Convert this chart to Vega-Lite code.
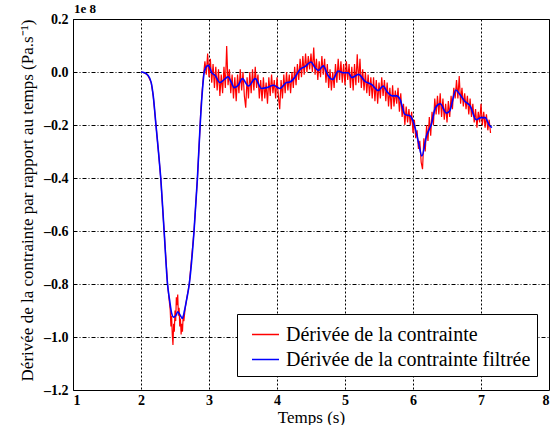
{
  "$schema": "https://vega.github.io/schema/vega-lite/v6.json",
  "width": 476,
  "height": 371,
  "autosize": {"type": "none"},
  "padding": {"left": 73, "top": 19, "right": 5, "bottom": 35},
  "background": "white",
  "title": {"text": "1e 8", "anchor": "start", "frame": "group", "font": "Liberation Serif", "fontSize": 13, "fontWeight": "bold", "color": "black", "offset": -4, "dx": 1},
  "config": {
    "view": {"stroke": "black", "strokeWidth": 1},
    "axis": {
      "domain": false, "ticks": false, "gridColor": "black", "gridOpacity": 1, "gridWidth": 1,
      "labelFont": "Liberation Serif", "labelFontWeight": "bold", "labelFontSize": 14, "labelColor": "black",
      "titleFont": "Liberation Serif", "titleFontWeight": "normal", "titleColor": "black"
    },
    "axisX": {"gridDash": [2, 2]},
    "axisY": {"gridDash": [4, 2, 1, 2]}
  },
  "data": {"values": [
    {"t": 2.00, "v": 0.000, "s": "b"}, {"t": 2.05, "v": -0.003, "s": "b"}, {"t": 2.10, "v": -0.012, "s": "b"}, {"t": 2.15, "v": -0.04, "s": "b"}, {"t": 2.18, "v": -0.09, "s": "b"}, {"t": 2.22, "v": -0.20, "s": "b"}, {"t": 2.26, "v": -0.31, "s": "b"}, {"t": 2.29, "v": -0.40, "s": "b"}, {"t": 2.34, "v": -0.60, "s": "b"}, {"t": 2.39, "v": -0.80, "s": "b"}, {"t": 2.42, "v": -0.86, "s": "b"}, {"t": 2.45, "v": -0.91, "s": "b"}, {"t": 2.48, "v": -0.925, "s": "b"}, {"t": 2.51, "v": -0.92, "s": "b"}, {"t": 2.54, "v": -0.905, "s": "b"}, {"t": 2.57, "v": -0.915, "s": "b"}, {"t": 2.61, "v": -0.93, "s": "b"}, {"t": 2.64, "v": -0.90, "s": "b"}, {"t": 2.67, "v": -0.86, "s": "b"}, {"t": 2.71, "v": -0.80, "s": "b"}, {"t": 2.78, "v": -0.60, "s": "b"}, {"t": 2.83, "v": -0.40, "s": "b"}, {"t": 2.87, "v": -0.20, "s": "b"}, {"t": 2.90, "v": -0.08, "s": "b"}, {"t": 2.93, "v": 0.00, "s": "b"}, {"t": 2.96, "v": 0.02, "s": "b"}, {"t": 2.99, "v": 0.025, "s": "b"}, {"t": 3.04, "v": -0.003, "s": "b"}, {"t": 3.09, "v": -0.013, "s": "b"}, {"t": 3.16, "v": -0.04, "s": "b"}, {"t": 3.24, "v": -0.025, "s": "b"}, {"t": 3.28, "v": -0.018, "s": "b"}, {"t": 3.33, "v": -0.04, "s": "b"}, {"t": 3.37, "v": -0.059, "s": "b"}, {"t": 3.43, "v": -0.05, "s": "b"}, {"t": 3.49, "v": -0.025, "s": "b"}, {"t": 3.58, "v": -0.053, "s": "b"}, {"t": 3.68, "v": -0.025, "s": "b"}, {"t": 3.77, "v": -0.062, "s": "b"}, {"t": 3.85, "v": -0.059, "s": "b"}, {"t": 3.95, "v": -0.05, "s": "b"}, {"t": 4.04, "v": -0.062, "s": "b"}, {"t": 4.14, "v": -0.04, "s": "b"}, {"t": 4.19, "v": -0.038, "s": "b"}, {"t": 4.26, "v": -0.021, "s": "b"}, {"t": 4.34, "v": 0.01, "s": "b"}, {"t": 4.41, "v": 0.02, "s": "b"}, {"t": 4.50, "v": 0.038, "s": "b"}, {"t": 4.56, "v": 0.016, "s": "b"}, {"t": 4.61, "v": 0.006, "s": "b"}, {"t": 4.68, "v": 0.023, "s": "b"}, {"t": 4.75, "v": -0.013, "s": "b"}, {"t": 4.82, "v": -0.028, "s": "b"}, {"t": 4.90, "v": 0.004, "s": "b"}, {"t": 4.97, "v": -0.003, "s": "b"}, {"t": 5.05, "v": -0.003, "s": "b"}, {"t": 5.10, "v": -0.021, "s": "b"}, {"t": 5.20, "v": -0.009, "s": "b"}, {"t": 5.29, "v": -0.034, "s": "b"}, {"t": 5.39, "v": -0.047, "s": "b"}, {"t": 5.49, "v": -0.07, "s": "b"}, {"t": 5.56, "v": -0.053, "s": "b"}, {"t": 5.62, "v": -0.075, "s": "b"}, {"t": 5.69, "v": -0.09, "s": "b"}, {"t": 5.76, "v": -0.09, "s": "b"}, {"t": 5.81, "v": -0.103, "s": "b"}, {"t": 5.88, "v": -0.16, "s": "b"}, {"t": 5.96, "v": -0.166, "s": "b"}, {"t": 6.03, "v": -0.21, "s": "b"}, {"t": 6.08, "v": -0.265, "s": "b"}, {"t": 6.13, "v": -0.317, "s": "b"}, {"t": 6.20, "v": -0.24, "s": "b"}, {"t": 6.27, "v": -0.197, "s": "b"}, {"t": 6.33, "v": -0.135, "s": "b"}, {"t": 6.40, "v": -0.12, "s": "b"}, {"t": 6.49, "v": -0.155, "s": "b"}, {"t": 6.54, "v": -0.147, "s": "b"}, {"t": 6.63, "v": -0.068, "s": "b"}, {"t": 6.69, "v": -0.085, "s": "b"}, {"t": 6.76, "v": -0.11, "s": "b"}, {"t": 6.84, "v": -0.128, "s": "b"}, {"t": 6.93, "v": -0.18, "s": "b"}, {"t": 7.00, "v": -0.172, "s": "b"}, {"t": 7.06, "v": -0.172, "s": "b"}, {"t": 7.12, "v": -0.20, "s": "b"}, {"t": 7.16, "v": -0.21, "s": "b"},

    {"t": 2.00, "v": 0.000, "s": "r"}, {"t": 2.05, "v": -0.003, "s": "r"}, {"t": 2.10, "v": -0.012, "s": "r"}, {"t": 2.15, "v": -0.04, "s": "r"}, {"t": 2.18, "v": -0.09, "s": "r"}, {"t": 2.22, "v": -0.20, "s": "r"}, {"t": 2.26, "v": -0.31, "s": "r"}, {"t": 2.29, "v": -0.40, "s": "r"}, {"t": 2.34, "v": -0.60, "s": "r"}, {"t": 2.39, "v": -0.80, "s": "r"}, {"t": 2.41, "v": -0.85, "s": "r"}, {"t": 2.43, "v": -0.90, "s": "r"}, {"t": 2.44, "v": -0.96, "s": "r"}, {"t": 2.45, "v": -0.92, "s": "r"}, {"t": 2.46, "v": -0.99, "s": "r"}, {"t": 2.47, "v": -1.03, "s": "r"}, {"t": 2.48, "v": -0.95, "s": "r"}, {"t": 2.49, "v": -0.98, "s": "r"}, {"t": 2.50, "v": -0.90, "s": "r"}, {"t": 2.51, "v": -0.94, "s": "r"}, {"t": 2.52, "v": -0.85, "s": "r"}, {"t": 2.53, "v": -0.88, "s": "r"}, {"t": 2.54, "v": -0.84, "s": "r"}, {"t": 2.55, "v": -0.92, "s": "r"}, {"t": 2.56, "v": -0.89, "s": "r"}, {"t": 2.57, "v": -0.96, "s": "r"}, {"t": 2.58, "v": -0.93, "s": "r"}, {"t": 2.59, "v": -0.99, "s": "r"}, {"t": 2.60, "v": -0.95, "s": "r"}, {"t": 2.61, "v": -0.98, "s": "r"}, {"t": 2.62, "v": -0.92, "s": "r"}, {"t": 2.63, "v": -0.94, "s": "r"}, {"t": 2.65, "v": -0.89, "s": "r"}, {"t": 2.67, "v": -0.86, "s": "r"}, {"t": 2.71, "v": -0.80, "s": "r"}, {"t": 2.78, "v": -0.60, "s": "r"}, {"t": 2.83, "v": -0.40, "s": "r"}, {"t": 2.87, "v": -0.20, "s": "r"}, {"t": 2.88, "v": -0.14, "s": "r"},
    {"t": 2.90, "v": -0.07, "s": "r"}, {"t": 2.92, "v": -0.01, "s": "r"}, {"t": 2.94, "v": 0.04, "s": "r"}, {"t": 2.96, "v": -0.01, "s": "r"}, {"t": 2.98, "v": 0.07, "s": "r"}, {"t": 3.00, "v": -0.02, "s": "r"}, {"t": 3.02, "v": 0.05, "s": "r"}, {"t": 3.04, "v": -0.04, "s": "r"}, {"t": 3.06, "v": 0.03, "s": "r"}, {"t": 3.08, "v": -0.06, "s": "r"}, {"t": 3.10, "v": 0.02, "s": "r"}, {"t": 3.12, "v": -0.07, "s": "r"}, {"t": 3.14, "v": 0.01, "s": "r"}, {"t": 3.16, "v": -0.09, "s": "r"}, {"t": 3.18, "v": -0.01, "s": "r"}, {"t": 3.20, "v": -0.08, "s": "r"}, {"t": 3.22, "v": 0.02, "s": "r"}, {"t": 3.24, "v": -0.06, "s": "r"}, {"t": 3.26, "v": 0.098, "s": "r"}, {"t": 3.28, "v": -0.05, "s": "r"}, {"t": 3.30, "v": 0.01, "s": "r"}, {"t": 3.32, "v": -0.08, "s": "r"}, {"t": 3.34, "v": -0.01, "s": "r"}, {"t": 3.36, "v": -0.10, "s": "r"}, {"t": 3.38, "v": -0.02, "s": "r"}, {"t": 3.40, "v": -0.11, "s": "r"}, {"t": 3.42, "v": -0.01, "s": "r"}, {"t": 3.44, "v": -0.08, "s": "r"}, {"t": 3.46, "v": 0.01, "s": "r"}, {"t": 3.48, "v": -0.07, "s": "r"}, {"t": 3.50, "v": 0.00, "s": "r"}, {"t": 3.52, "v": -0.09, "s": "r"}, {"t": 3.54, "v": -0.135, "s": "r"}, {"t": 3.56, "v": -0.02, "s": "r"}, {"t": 3.58, "v": -0.10, "s": "r"}, {"t": 3.60, "v": 0.00, "s": "r"}, {"t": 3.62, "v": -0.08, "s": "r"}, {"t": 3.64, "v": 0.01, "s": "r"}, {"t": 3.66, "v": -0.07, "s": "r"}, {"t": 3.68, "v": 0.02, "s": "r"}, {"t": 3.70, "v": -0.06, "s": "r"}, {"t": 3.72, "v": -0.01, "s": "r"}, {"t": 3.74, "v": -0.10, "s": "r"}, {"t": 3.76, "v": -0.03, "s": "r"}, {"t": 3.78, "v": -0.11, "s": "r"}, {"t": 3.80, "v": -0.02, "s": "r"}, {"t": 3.82, "v": -0.10, "s": "r"}, {"t": 3.84, "v": -0.04, "s": "r"}, {"t": 3.86, "v": -0.12, "s": "r"}, {"t": 3.88, "v": -0.02, "s": "r"}, {"t": 3.90, "v": -0.09, "s": "r"}, {"t": 3.92, "v": -0.01, "s": "r"}, {"t": 3.94, "v": -0.08, "s": "r"}, {"t": 3.96, "v": -0.03, "s": "r"}, {"t": 3.98, "v": -0.10, "s": "r"}, {"t": 4.00, "v": -0.02, "s": "r"}, {"t": 4.02, "v": -0.09, "s": "r"}, {"t": 4.04, "v": -0.14, "s": "r"}, {"t": 4.06, "v": -0.03, "s": "r"}, {"t": 4.08, "v": -0.10, "s": "r"}, {"t": 4.10, "v": -0.01, "s": "r"}, {"t": 4.12, "v": -0.08, "s": "r"}, {"t": 4.14, "v": 0.00, "s": "r"}, {"t": 4.16, "v": -0.07, "s": "r"}, {"t": 4.18, "v": -0.01, "s": "r"}, {"t": 4.20, "v": -0.08, "s": "r"},
    {"t": 4.22, "v": 0.00, "s": "r"}, {"t": 4.24, "v": -0.06, "s": "r"}, {"t": 4.26, "v": 0.02, "s": "r"}, {"t": 4.28, "v": -0.05, "s": "r"}, {"t": 4.30, "v": 0.03, "s": "r"}, {"t": 4.32, "v": -0.03, "s": "r"}, {"t": 4.34, "v": 0.05, "s": "r"}, {"t": 4.36, "v": -0.02, "s": "r"}, {"t": 4.38, "v": 0.06, "s": "r"}, {"t": 4.40, "v": -0.01, "s": "r"}, {"t": 4.42, "v": 0.07, "s": "r"}, {"t": 4.44, "v": 0.00, "s": "r"}, {"t": 4.46, "v": 0.06, "s": "r"}, {"t": 4.48, "v": 0.01, "s": "r"}, {"t": 4.50, "v": 0.07, "s": "r"}, {"t": 4.52, "v": 0.00, "s": "r"}, {"t": 4.54, "v": 0.092, "s": "r"}, {"t": 4.56, "v": -0.01, "s": "r"}, {"t": 4.58, "v": 0.05, "s": "r"}, {"t": 4.60, "v": -0.03, "s": "r"}, {"t": 4.62, "v": 0.04, "s": "r"}, {"t": 4.64, "v": -0.02, "s": "r"}, {"t": 4.66, "v": 0.06, "s": "r"}, {"t": 4.68, "v": -0.01, "s": "r"}, {"t": 4.70, "v": 0.05, "s": "r"}, {"t": 4.72, "v": -0.04, "s": "r"}, {"t": 4.74, "v": 0.03, "s": "r"}, {"t": 4.76, "v": -0.06, "s": "r"}, {"t": 4.78, "v": 0.01, "s": "r"}, {"t": 4.80, "v": -0.07, "s": "r"}, {"t": 4.82, "v": 0.00, "s": "r"}, {"t": 4.84, "v": -0.06, "s": "r"}, {"t": 4.86, "v": 0.03, "s": "r"}, {"t": 4.88, "v": -0.04, "s": "r"}, {"t": 4.90, "v": 0.05, "s": "r"}, {"t": 4.92, "v": -0.03, "s": "r"}, {"t": 4.94, "v": 0.04, "s": "r"}, {"t": 4.96, "v": -0.04, "s": "r"}, {"t": 4.98, "v": 0.03, "s": "r"}, {"t": 5.00, "v": -0.05, "s": "r"}, {"t": 5.02, "v": 0.04, "s": "r"}, {"t": 5.04, "v": -0.03, "s": "r"}, {"t": 5.06, "v": 0.03, "s": "r"}, {"t": 5.08, "v": -0.06, "s": "r"}, {"t": 5.10, "v": 0.02, "s": "r"}, {"t": 5.12, "v": -0.07, "s": "r"}, {"t": 5.14, "v": 0.03, "s": "r"}, {"t": 5.16, "v": -0.05, "s": "r"}, {"t": 5.18, "v": 0.067, "s": "r"}, {"t": 5.20, "v": -0.04, "s": "r"}, {"t": 5.22, "v": 0.05, "s": "r"}, {"t": 5.24, "v": -0.06, "s": "r"}, {"t": 5.26, "v": 0.01, "s": "r"}, {"t": 5.28, "v": -0.07, "s": "r"}, {"t": 5.30, "v": 0.00, "s": "r"}, {"t": 5.32, "v": -0.08, "s": "r"}, {"t": 5.34, "v": -0.01, "s": "r"}, {"t": 5.36, "v": -0.09, "s": "r"}, {"t": 5.38, "v": -0.02, "s": "r"}, {"t": 5.40, "v": -0.10, "s": "r"}, {"t": 5.42, "v": -0.02, "s": "r"}, {"t": 5.44, "v": -0.11, "s": "r"}, {"t": 5.46, "v": -0.03, "s": "r"}, {"t": 5.48, "v": -0.12, "s": "r"}, {"t": 5.50, "v": -0.04, "s": "r"},
    {"t": 5.52, "v": -0.10, "s": "r"}, {"t": 5.54, "v": -0.02, "s": "r"}, {"t": 5.56, "v": -0.09, "s": "r"}, {"t": 5.58, "v": -0.03, "s": "r"}, {"t": 5.60, "v": -0.11, "s": "r"}, {"t": 5.62, "v": -0.04, "s": "r"}, {"t": 5.64, "v": -0.13, "s": "r"}, {"t": 5.66, "v": -0.06, "s": "r"}, {"t": 5.68, "v": -0.14, "s": "r"}, {"t": 5.70, "v": -0.05, "s": "r"}, {"t": 5.72, "v": -0.13, "s": "r"}, {"t": 5.74, "v": -0.07, "s": "r"}, {"t": 5.76, "v": -0.12, "s": "r"}, {"t": 5.78, "v": -0.06, "s": "r"}, {"t": 5.80, "v": -0.15, "s": "r"}, {"t": 5.82, "v": -0.08, "s": "r"}, {"t": 5.84, "v": -0.17, "s": "r"}, {"t": 5.86, "v": -0.12, "s": "r"}, {"t": 5.88, "v": -0.20, "s": "r"}, {"t": 5.90, "v": -0.13, "s": "r"}, {"t": 5.92, "v": -0.19, "s": "r"}, {"t": 5.94, "v": -0.14, "s": "r"}, {"t": 5.96, "v": -0.20, "s": "r"}, {"t": 5.98, "v": -0.15, "s": "r"}, {"t": 6.00, "v": -0.23, "s": "r"}, {"t": 6.02, "v": -0.18, "s": "r"}, {"t": 6.04, "v": -0.25, "s": "r"}, {"t": 6.06, "v": -0.22, "s": "r"}, {"t": 6.08, "v": -0.29, "s": "r"}, {"t": 6.10, "v": -0.26, "s": "r"}, {"t": 6.12, "v": -0.34, "s": "r"}, {"t": 6.14, "v": -0.367, "s": "r"}, {"t": 6.16, "v": -0.25, "s": "r"}, {"t": 6.18, "v": -0.30, "s": "r"}, {"t": 6.20, "v": -0.20, "s": "r"}, {"t": 6.22, "v": -0.26, "s": "r"}, {"t": 6.24, "v": -0.17, "s": "r"}, {"t": 6.26, "v": -0.24, "s": "r"}, {"t": 6.28, "v": -0.15, "s": "r"}, {"t": 6.30, "v": -0.20, "s": "r"}, {"t": 6.32, "v": -0.10, "s": "r"}, {"t": 6.34, "v": -0.16, "s": "r"}, {"t": 6.36, "v": -0.09, "s": "r"}, {"t": 6.38, "v": -0.16, "s": "r"}, {"t": 6.40, "v": -0.08, "s": "r"}, {"t": 6.42, "v": -0.17, "s": "r"}, {"t": 6.44, "v": -0.10, "s": "r"}, {"t": 6.46, "v": -0.18, "s": "r"}, {"t": 6.48, "v": -0.12, "s": "r"}, {"t": 6.50, "v": -0.19, "s": "r"}, {"t": 6.52, "v": -0.11, "s": "r"}, {"t": 6.54, "v": -0.17, "s": "r"}, {"t": 6.56, "v": -0.09, "s": "r"}, {"t": 6.58, "v": -0.14, "s": "r"}, {"t": 6.60, "v": -0.06, "s": "r"}, {"t": 6.62, "v": -0.10, "s": "r"}, {"t": 6.64, "v": -0.03, "s": "r"}, {"t": 6.66, "v": -0.10, "s": "r"}, {"t": 6.68, "v": -0.015, "s": "r"}, {"t": 6.70, "v": -0.12, "s": "r"}, {"t": 6.72, "v": -0.06, "s": "r"}, {"t": 6.74, "v": -0.13, "s": "r"}, {"t": 6.76, "v": -0.08, "s": "r"}, {"t": 6.78, "v": -0.14, "s": "r"}, {"t": 6.80, "v": -0.09, "s": "r"}, {"t": 6.82, "v": -0.16, "s": "r"}, {"t": 6.84, "v": -0.10, "s": "r"}, {"t": 6.86, "v": -0.17, "s": "r"}, {"t": 6.88, "v": -0.12, "s": "r"}, {"t": 6.90, "v": -0.19, "s": "r"}, {"t": 6.92, "v": -0.14, "s": "r"}, {"t": 6.94, "v": -0.21, "s": "r"}, {"t": 6.96, "v": -0.15, "s": "r"}, {"t": 6.98, "v": -0.19, "s": "r"}, {"t": 7.00, "v": -0.12, "s": "r"}, {"t": 7.02, "v": -0.20, "s": "r"}, {"t": 7.04, "v": -0.15, "s": "r"}, {"t": 7.06, "v": -0.21, "s": "r"}, {"t": 7.08, "v": -0.16, "s": "r"}, {"t": 7.10, "v": -0.22, "s": "r"}, {"t": 7.12, "v": -0.18, "s": "r"}, {"t": 7.14, "v": -0.23, "s": "r"}
  ]},
  "encoding": {
    "x": {"field": "t", "type": "quantitative", "scale": {"domain": [1, 8], "nice": false, "zero": false},
          "axis": {"values": [1, 2, 3, 4, 5, 6, 7, 8], "format": "d", "title": "Temps (s)", "titleFontSize": 17, "labelPadding": 3, "titlePadding": 2}},
    "y": {"field": "v", "type": "quantitative", "scale": {"domain": [-1.2, 0.2], "nice": false, "zero": false},
          "axis": {"values": [-1.2, -1.0, -0.8, -0.6, -0.4, -0.2, 0.0, 0.2], "labelPadding": 5,
                   "labelExpr": "(datum.value < -0.001 ? '–' : '') + format(abs(datum.value), '.1f')",
                   "title": "Dérivée de la contrainte par rapport au temps (Pa.s⁻¹)", "titleFontSize": 17,
                   "titleX": -41, "titleY": 181, "titleBaseline": "alphabetic", "titleAngle": 270, "titleAlign": "center"}},
    "color": {"field": "s", "type": "nominal",
              "scale": {"domain": ["r", "b"], "range": ["#ff0000", "#0000ff"]},
              "legend": {"title": null, "orient": "none", "legendX": 164, "legendY": 295,
                         "labelExpr": "datum.value == 'r' ? 'Dérivée de la contrainte' : 'Dérivée de la contrainte filtrée'",
                         "strokeColor": "black", "fillColor": "white", "padding": 6,
                         "labelFont": "Liberation Serif", "labelFontSize": 20, "labelColor": "black", "labelOffset": 6,
                         "symbolType": "stroke", "symbolSize": 729, "symbolStrokeWidth": 1.5, "symbolOffset": 8, "rowPadding": 0, "labelLimit": 400}}
  },
  "layer": [
    {"transform": [{"filter": "datum.s == 'r'"}], "mark": {"type": "line", "strokeWidth": 1.2, "clip": true}},
    {"transform": [{"filter": "datum.s == 'b'"}], "mark": {"type": "line", "strokeWidth": 1.6, "interpolate": "monotone", "clip": true}}
  ]
}
